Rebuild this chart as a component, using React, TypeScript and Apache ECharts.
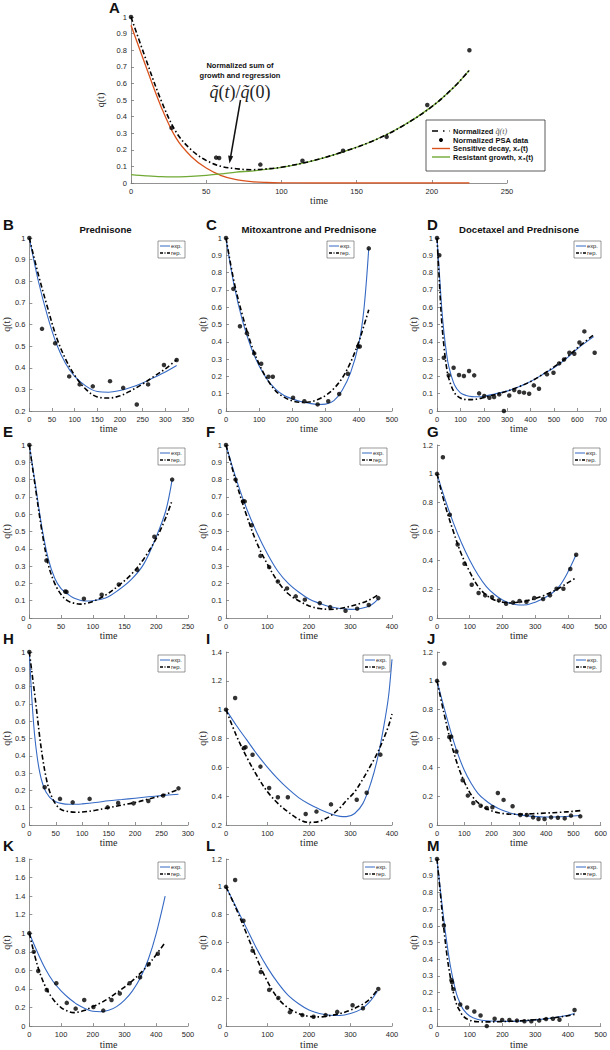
import React, { useEffect, useRef } from "react";
import * as echarts from "echarts";

// ---------- Panel A / E (same patient) ----------
const ePtsT = [0, 27, 56.6, 58.6, 86, 114, 141, 170, 197, 225];
const ePtsQ = [1, 0.332, 0.153, 0.151, 0.111, 0.134, 0.194, 0.278, 0.47, 0.8];
const eFitT = [0, 10, 20, 30, 40, 50, 60, 70, 80, 90, 100, 120, 140, 160, 180, 200, 215, 225];
const eExp = [1, 0.76, 0.52, 0.34, 0.23, 0.17, 0.14, 0.115, 0.103, 0.098, 0.1, 0.115, 0.16, 0.22, 0.31, 0.47, 0.62, 0.8];
const eRep = [1, 0.743, 0.498, 0.307, 0.2, 0.136, 0.1, 0.086, 0.08, 0.085, 0.095, 0.132, 0.185, 0.25, 0.34, 0.46, 0.58, 0.68];
const aSensitive = [0.95, 0.7, 0.46, 0.27, 0.16, 0.09, 0.045, 0.02, 0.008, 0.003, 0.001, 0, 0, 0, 0, 0, 0, 0];
const aResistant = [0.05, 0.043, 0.038, 0.037, 0.04, 0.046, 0.055, 0.066, 0.072, 0.082, 0.094, 0.132, 0.185, 0.25, 0.34, 0.46, 0.58, 0.68];

// ---------- B ----------
const bPtsT = [0, 28, 57, 88, 111, 140, 178, 207, 237, 262, 297, 325];
const bPtsQ = [1, 0.58, 0.513, 0.36, 0.323, 0.314, 0.338, 0.307, 0.23, 0.323, 0.413, 0.436];
const bFitT = [0, 20, 40, 60, 80, 100, 125, 150, 175, 200, 225, 250, 275, 300, 325];
const bExp = [1, 0.8, 0.64, 0.51, 0.42, 0.36, 0.315, 0.29, 0.287, 0.295, 0.31, 0.33, 0.355, 0.38, 0.41];
const bRep = [1, 0.83, 0.68, 0.54, 0.44, 0.365, 0.3, 0.265, 0.26, 0.27, 0.295, 0.325, 0.36, 0.395, 0.437];

// ---------- C ----------
const cPtsT = [0, 22, 42, 63, 85, 106, 128, 141, 202, 236, 276, 308, 341, 367, 398, 403, 430];
const cPtsQ = [1, 0.706, 0.49, 0.45, 0.333, 0.273, 0.198, 0.198, 0.077, 0.056, 0.038, 0.056, 0.098, 0.215, 0.373, 0.373, 0.94];
const cFitT = [0, 25, 50, 75, 100, 125, 150, 175, 200, 225, 250, 275, 300, 325, 350, 375, 400, 415, 430];
const cExp = [1, 0.72, 0.52, 0.37, 0.26, 0.18, 0.125, 0.09, 0.07, 0.055, 0.045, 0.038, 0.04, 0.06, 0.12, 0.22, 0.39, 0.58, 0.94];
const cRep = [1, 0.74, 0.55, 0.39, 0.27, 0.18, 0.115, 0.08, 0.058, 0.05, 0.052, 0.065, 0.09, 0.13, 0.19, 0.28, 0.4, 0.49, 0.585];

// ---------- D ----------
const dPtsT = [0, 10, 29, 50, 71, 94, 115, 137, 159, 180, 202, 224, 244, 266, 286, 309, 330, 352, 372, 394, 414, 436, 470, 498, 522, 543, 566, 587, 609, 630, 674];
const dPtsQ = [1, 0.9, 0.308, 0.206, 0.25, 0.208, 0.202, 0.231, 0.206, 0.102, 0.087, 0.077, 0.081, 0.096, 0, 0.09, 0.121, 0.11, 0.106, 0.1, 0.148, 0.129, 0.212, 0.221, 0.275, 0.298, 0.337, 0.331, 0.396, 0.46, 0.337];
const dFitT = [0, 10, 20, 30, 40, 50, 75, 100, 125, 150, 175, 200, 250, 300, 350, 400, 450, 500, 550, 600, 670];
const dExp = [1, 0.8, 0.6, 0.45, 0.34, 0.26, 0.15, 0.105, 0.09, 0.083, 0.082, 0.085, 0.1, 0.115, 0.14, 0.17, 0.21, 0.25, 0.3, 0.36, 0.43];
const dRep = [1, 0.75, 0.52, 0.37, 0.26, 0.19, 0.105, 0.075, 0.066, 0.066, 0.07, 0.078, 0.095, 0.115, 0.14, 0.17, 0.21, 0.255, 0.305, 0.365, 0.44];

// ---------- F ----------
const fPtsT = [0, 23, 41, 45, 62, 83, 104, 125, 147, 168, 190, 226, 251, 288, 316, 344, 367];
const fPtsQ = [1, 0.8, 0.674, 0.674, 0.536, 0.359, 0.294, 0.211, 0.171, 0.125, 0.106, 0.086, 0.063, 0.042, 0.054, 0.075, 0.115];
const fFitT = [0, 25, 50, 75, 100, 125, 150, 175, 200, 225, 250, 275, 300, 325, 350, 367];
const fExp = [1, 0.8, 0.63, 0.49, 0.37, 0.27, 0.2, 0.15, 0.11, 0.085, 0.065, 0.055, 0.05, 0.055, 0.075, 0.11];
const fRep = [1, 0.78, 0.59, 0.43, 0.31, 0.21, 0.14, 0.1, 0.07, 0.055, 0.05, 0.055, 0.068, 0.085, 0.11, 0.135];

// ---------- G ----------
const gPtsT = [0, 18, 39, 63, 84, 106, 127, 147, 168, 189, 211, 232, 252, 273, 297, 324, 345, 365, 386, 407, 425];
const gPtsQ = [1, 1.115, 0.716, 0.51, 0.376, 0.231, 0.173, 0.157, 0.145, 0.122, 0.099, 0.108, 0.118, 0.113, 0.139, 0.132, 0.157, 0.203, 0.203, 0.34, 0.439];
const gFitT = [0, 25, 50, 75, 100, 125, 150, 175, 200, 225, 250, 275, 300, 325, 350, 375, 400, 425];
const gExp = [1, 0.82, 0.66, 0.52, 0.4, 0.3, 0.22, 0.165, 0.125, 0.1, 0.09, 0.092, 0.11, 0.135, 0.17, 0.225, 0.32, 0.44];
const gRep = [1, 0.78, 0.6, 0.44, 0.32, 0.22, 0.16, 0.125, 0.11, 0.105, 0.11, 0.12, 0.135, 0.155, 0.18, 0.21, 0.245, 0.28];

// ---------- H ----------
const hPtsT = [0, 29, 58, 82, 114, 148, 168, 197, 225, 253, 282];
const hPtsQ = [1, 0.218, 0.151, 0.131, 0.151, 0.102, 0.127, 0.125, 0.139, 0.17, 0.212];
const hFitT = [0, 5, 10, 15, 20, 25, 30, 35, 40, 50, 60, 75, 90, 100, 125, 150, 175, 200, 225, 250, 282];
const hExp = [1, 0.72, 0.52, 0.39, 0.3, 0.24, 0.2, 0.175, 0.155, 0.135, 0.125, 0.12, 0.12, 0.122, 0.13, 0.14, 0.147, 0.155, 0.163, 0.17, 0.178];
const hRep = [1, 0.88, 0.76, 0.63, 0.5, 0.39, 0.3, 0.23, 0.18, 0.12, 0.09, 0.077, 0.074, 0.075, 0.085, 0.1, 0.115, 0.13, 0.15, 0.17, 0.205];

// ---------- I ----------
const iPtsT = [0, 22, 43, 47, 64, 83, 104, 125, 149, 192, 218, 253, 315, 339, 372, 401];
const iPtsQ = [1, 1.081, 0.733, 0.74, 0.687, 0.605, 0.457, 0.392, 0.392, 0.276, 0.293, 0.343, 0.375, 0.424, 0.688, 1.344];
const iFitT = [0, 25, 50, 75, 100, 125, 150, 175, 200, 225, 250, 275, 290, 310, 330, 350, 365, 380, 392, 400];
const iExp = [1, 0.89, 0.79, 0.69, 0.6, 0.52, 0.45, 0.39, 0.345, 0.31, 0.28, 0.26, 0.258, 0.28, 0.35, 0.5, 0.66, 0.88, 1.1, 1.35];
const iRep = [1, 0.82, 0.67, 0.54, 0.43, 0.35, 0.29, 0.24, 0.218, 0.225, 0.26, 0.32, 0.37, 0.43, 0.52, 0.62, 0.7, 0.8, 0.89, 0.97];

// ---------- J ----------
const jPtsT = [0, 27, 45, 52, 71, 94, 113, 133, 160, 182, 203, 223, 244, 277, 305, 329, 352, 372, 394, 418, 443, 468, 491, 525];
const jPtsQ = [1, 1.12, 0.61, 0.613, 0.51, 0.31, 0.204, 0.153, 0.134, 0.118, 0.123, 0.222, 0.174, 0.13, 0.069, 0.069, 0.053, 0.042, 0.042, 0.053, 0.05, 0.046, 0.065, 0.06];
const jFitT = [0, 25, 50, 75, 100, 125, 150, 175, 200, 225, 250, 275, 300, 350, 400, 450, 500, 525];
const jExp = [1, 0.82, 0.65, 0.5, 0.38, 0.29, 0.22, 0.175, 0.14, 0.115, 0.095, 0.08, 0.07, 0.06, 0.055, 0.057, 0.062, 0.066];
const jRep = [1, 0.78, 0.58, 0.42, 0.3, 0.21, 0.155, 0.12, 0.098, 0.085, 0.078, 0.075, 0.075, 0.078, 0.083, 0.088, 0.095, 0.1];

// ---------- K ----------
const kPtsT = [0, 14, 28, 55, 85, 118, 146, 173, 202, 233, 259, 285, 316, 349, 376, 405];
const kPtsQ = [1, 0.8, 0.594, 0.389, 0.462, 0.25, 0.188, 0.281, 0.205, 0.167, 0.281, 0.351, 0.462, 0.527, 0.667, 0.78];
const kFitT = [0, 25, 50, 75, 100, 125, 140, 150, 175, 200, 225, 250, 275, 300, 325, 350, 375, 400, 428];
const kExp = [1, 0.8, 0.62, 0.48, 0.38, 0.3, 0.26, 0.235, 0.19, 0.16, 0.155, 0.17, 0.21, 0.28, 0.38, 0.52, 0.72, 1.0, 1.4];
const kRep = [1, 0.66, 0.43, 0.29, 0.2, 0.155, 0.145, 0.148, 0.17, 0.21, 0.25, 0.3, 0.36, 0.42, 0.49, 0.57, 0.66, 0.77, 0.9];

// ---------- L ----------
const lPtsT = [0, 22, 42, 64, 84, 104, 126, 154, 184, 211, 240, 268, 305, 330, 367];
const lPtsQ = [1, 1.049, 0.757, 0.542, 0.389, 0.26, 0.202, 0.1, 0.079, 0.067, 0.079, 0.102, 0.15, 0.128, 0.267];
const lFitT = [0, 25, 50, 75, 100, 125, 150, 175, 200, 225, 250, 275, 300, 325, 345, 365];
const lExp = [1, 0.85, 0.7, 0.55, 0.42, 0.31, 0.22, 0.16, 0.115, 0.09, 0.078, 0.076, 0.09, 0.12, 0.17, 0.25];
const lRep = [1, 0.84, 0.66, 0.48, 0.32, 0.2, 0.13, 0.09, 0.07, 0.066, 0.075, 0.09, 0.115, 0.15, 0.19, 0.26];

// ---------- M ----------
const mPtsT = [0, 21, 44, 46, 50, 71, 92, 114, 133, 152, 176, 199, 221, 244, 267, 288, 312, 333, 354, 374, 420];
const mPtsQ = [1, 0.602, 0.275, 0.263, 0.221, 0.129, 0.111, 0.087, 0.063, 0, 0.044, 0.037, 0.037, 0.033, 0.029, 0.029, 0.033, 0.042, 0.044, 0.038, 0.096];
const mFitT = [0, 10, 20, 30, 40, 50, 60, 70, 80, 100, 125, 150, 200, 250, 300, 350, 400, 420];
const mExp = [1, 0.82, 0.65, 0.5, 0.37, 0.27, 0.19, 0.14, 0.1, 0.06, 0.04, 0.032, 0.028, 0.03, 0.037, 0.048, 0.065, 0.075];
const mRep = [1, 0.8, 0.6, 0.43, 0.3, 0.2, 0.13, 0.09, 0.06, 0.035, 0.026, 0.025, 0.027, 0.031, 0.038, 0.048, 0.062, 0.07];

// legend labels
const panelLegend = ["exp.", "rep."];
const aLegend = ["Normalized PSA data", "Sensitive decay, x\u2082(t)", "Resistant growth, x\u2083(t)"];

const BLUE = "#3569c4";
const RED = "#d9531e";
const GREEN = "#70a935";
const AXIS = "#777777";
const TXT = "#262626";
const SANS = "Liberation Sans, Arial, sans-serif";
const SERIF = "Liberation Serif, Times New Roman, serif";
const REP_DASH = [5, 2.5, 1.5, 2.5];

const COLS = [
  { left: 23, width: 165, letterX: 3 },
  { left: 226, width: 166, letterX: 206 },
  { left: 437, width: 164, letterX: 427 },
];
const ROW_TOPS = [238, 445, 652, 859];
const LETTER_Y = [224, 431, 638, 845];
const PLOT_H = 173;

const panels = [
  { letter: "B", title: "Prednisone", col: 0, row: 0, pT: bPtsT, pQ: bPtsQ, fT: bFitT, ex: bExp, rp: bRep, xMax: 350, xStep: 50, yMin: 0.2, yMax: 1, yStep: 0.1, lg: 3 },
  { letter: "C", title: "Mitoxantrone and Prednisone", col: 1, row: 0, pT: cPtsT, pQ: cPtsQ, fT: cFitT, ex: cExp, rp: cRep, xMax: 500, xStep: 100, yMin: 0, yMax: 1, yStep: 0.1, lg: 38 },
  { letter: "D", title: "Docetaxel and Prednisone", col: 2, row: 0, pT: dPtsT, pQ: dPtsQ, fT: dFitT, ex: dExp, rp: dRep, xMax: 700, xStep: 100, yMin: 0, yMax: 1, yStep: 0.1, lg: 0 },
  { letter: "E", title: "", col: 0, row: 1, pT: ePtsT, pQ: ePtsQ, fT: eFitT, ex: eExp, rp: eRep, xMax: 250, xStep: 50, yMin: 0, yMax: 1, yStep: 0.1, lg: 3 },
  { letter: "F", title: "", col: 1, row: 1, pT: fPtsT, pQ: fPtsQ, fT: fFitT, ex: fExp, rp: fRep, xMax: 400, xStep: 100, yMin: 0, yMax: 1, yStep: 0.1, lg: 5 },
  { letter: "G", title: "", col: 2, row: 1, pT: gPtsT, pQ: gPtsQ, fT: gFitT, ex: gExp, rp: gRep, xMax: 500, xStep: 100, yMin: 0, yMax: 1.2, yStep: 0.2, lg: 1 },
  { letter: "H", title: "", col: 0, row: 2, pT: hPtsT, pQ: hPtsQ, fT: hFitT, ex: hExp, rp: hRep, xMax: 300, xStep: 50, yMin: 0, yMax: 1, yStep: 0.1, lg: 3 },
  { letter: "I", title: "", col: 1, row: 2, pT: iPtsT, pQ: iPtsQ, fT: iFitT, ex: iExp, rp: iRep, xMax: 400, xStep: 100, yMin: 0.2, yMax: 1.4, yStep: 0.2, lg: 2 },
  { letter: "J", title: "", col: 2, row: 2, pT: jPtsT, pQ: jPtsQ, fT: jFitT, ex: jExp, rp: jRep, xMax: 600, xStep: 100, yMin: 0, yMax: 1.2, yStep: 0.2, lg: 0 },
  { letter: "K", title: "", col: 0, row: 3, pT: kPtsT, pQ: kPtsQ, fT: kFitT, ex: kExp, rp: kRep, xMax: 500, xStep: 100, yMin: 0, yMax: 1.8, yStep: 0.2, lg: 3 },
  { letter: "L", title: "", col: 1, row: 3, pT: lPtsT, pQ: lPtsQ, fT: lFitT, ex: lExp, rp: lRep, xMax: 400, xStep: 100, yMin: 0, yMax: 1.2, yStep: 0.2, lg: 2 },
  { letter: "M", title: "", col: 2, row: 3, pT: mPtsT, pQ: mPtsQ, fT: mFitT, ex: mExp, rp: mRep, xMax: 500, xStep: 100, yMin: 0, yMax: 1, yStep: 0.1, lg: 0 },
];

const zip = (t: number[], v: number[]) => t.map((x, i) => [x, v[i]]);

function axisBase(name: string, gap: number) {
  return {
    type: "value" as const,
    name,
    nameLocation: "middle" as const,
    nameGap: gap,
    nameTextStyle: { fontFamily: SERIF, fontSize: 10, color: TXT },
    axisLine: { show: true, onZero: false, lineStyle: { color: AXIS, width: 0.8 } },
    axisTick: { show: true, inside: true, length: 3, lineStyle: { color: AXIS, width: 0.8 } },
    axisLabel: { fontSize: 7.5, color: TXT, fontFamily: SANS, margin: 4 },
    splitLine: { show: false },
  };
}

function buildOption() {
  const grid: any[] = [];
  const xAxis: any[] = [];
  const yAxis: any[] = [];
  const series: any[] = [];
  const graphic: any[] = [];

  // ----- Panel A -----
  grid.push({ left: 131, top: 17, width: 376, height: 166 });
  xAxis.push({ ...axisBase("time", 10), gridIndex: 0, min: 0, max: 250, interval: 50 });
  yAxis.push({ ...axisBase("q(t)", 15), gridIndex: 0, min: 0, max: 1, interval: 0.1 });
  series.push(
    { type: "line", name: "Sensitive decay", xAxisIndex: 0, yAxisIndex: 0, data: zip(eFitT, aSensitive), showSymbol: false, smooth: 0.35, lineStyle: { color: RED, width: 1.3 }, z: 2 },
    { type: "line", name: "Resistant growth", xAxisIndex: 0, yAxisIndex: 0, data: zip(eFitT, aResistant), showSymbol: false, smooth: 0.35, lineStyle: { color: GREEN, width: 1.3 }, z: 2 },
    { type: "line", name: "Normalized sum", xAxisIndex: 0, yAxisIndex: 0, data: zip(eFitT, eRep), showSymbol: false, smooth: 0.35, lineStyle: { color: "#000", width: 1.6, type: REP_DASH }, z: 3 },
    { type: "scatter", name: "Normalized PSA data", xAxisIndex: 0, yAxisIndex: 0, data: zip(ePtsT, ePtsQ), symbolSize: 4.5, itemStyle: { color: "#000" }, z: 4 }
  );

  // A annotations
  graphic.push(
    { type: "text", x: 109, y: 7, z: 100, style: { text: "A", font: `bold 15px ${SANS}`, fill: "#111", verticalAlign: "middle" } },
    { type: "text", x: 240, y: 65, z: 100, style: { text: "Normalized sum of", font: `bold 7.5px ${SANS}`, fill: "#111", align: "center", verticalAlign: "middle" } },
    { type: "text", x: 240, y: 75, z: 100, style: { text: "growth and regression", font: `bold 7.5px ${SANS}`, fill: "#111", align: "center", verticalAlign: "middle" } },
    {
      type: "text", x: 240, y: 92, z: 100,
      style: {
        text: "{i|q\u0303}{n|(}{i|t}{n|)/}{i|q\u0303}{n|(0)}",
        align: "center", verticalAlign: "middle",
        rich: {
          i: { fontFamily: SERIF, fontStyle: "italic", fontSize: 18, fill: "#222" },
          n: { fontFamily: SERIF, fontSize: 18, fill: "#222" },
        },
      },
    },
    { type: "line", z: 100, shape: { x1: 240.5, y1: 100, x2: 230.6, y2: 157 }, style: { stroke: "#111", lineWidth: 1.5 } },
    { type: "polygon", z: 100, shape: { points: [[229.5, 163.5], [233.2, 156.2], [228.1, 155.4]] }, style: { fill: "#111" } }
  );

  // A legend
  const lx = 426, ly = 120;
  const rowY = [131, 140, 148.5, 157];
  graphic.push(
    { type: "rect", z: 100, shape: { x: lx, y: ly, width: 119, height: 51 }, style: { fill: "#fff", stroke: "#333", lineWidth: 0.8 } },
    { type: "line", z: 101, shape: { x1: 432, y1: rowY[0], x2: 450, y2: rowY[0] }, style: { stroke: "#000", lineWidth: 1.5, lineDash: [6, 5, 1.5, 5] } },
    {
      type: "text", z: 101, x: 453, y: rowY[0],
      style: {
        text: "{b|Normalized }{m|q\u0303(t)}", verticalAlign: "middle",
        rich: {
          b: { fontFamily: SANS, fontWeight: "bold", fontSize: 7.5, fill: "#111" },
          m: { fontFamily: SERIF, fontStyle: "italic", fontSize: 8, fill: "#555" },
        },
      },
    },
    { type: "circle", z: 101, shape: { cx: 441, cy: rowY[1], r: 2 }, style: { fill: "#000" } },
    { type: "text", z: 101, x: 453, y: rowY[1], style: { text: aLegend[0], font: `bold 7.5px ${SANS}`, fill: "#111", verticalAlign: "middle" } },
    { type: "line", z: 101, shape: { x1: 432, y1: rowY[2], x2: 450, y2: rowY[2] }, style: { stroke: RED, lineWidth: 1.4 } },
    { type: "text", z: 101, x: 453, y: rowY[2], style: { text: aLegend[1], font: `bold 7.5px ${SANS}`, fill: "#111", verticalAlign: "middle" } },
    { type: "line", z: 101, shape: { x1: 432, y1: rowY[3], x2: 450, y2: rowY[3] }, style: { stroke: GREEN, lineWidth: 1.4 } },
    { type: "text", z: 101, x: 453, y: rowY[3], style: { text: aLegend[2], font: `bold 7.5px ${SANS}`, fill: "#111", verticalAlign: "middle" } }
  );

  // ----- Panels B..M -----
  panels.forEach((p, k) => {
    const gi = k + 1;
    const col = COLS[p.col];
    const top = ROW_TOPS[p.row];
    grid.push({ left: col.left, top, width: col.width, height: PLOT_H });
    xAxis.push({ ...axisBase("time", 10), gridIndex: gi, min: 0, max: p.xMax, interval: p.xStep });
    yAxis.push({ ...axisBase("q(t)", 14), gridIndex: gi, min: p.yMin, max: p.yMax, interval: p.yStep });
    series.push(
      { type: "line", name: panelLegend[0], xAxisIndex: gi, yAxisIndex: gi, data: zip(p.fT, p.ex), showSymbol: false, smooth: 0.35, lineStyle: { color: BLUE, width: 1.1 }, z: 2 },
      { type: "line", name: panelLegend[1], xAxisIndex: gi, yAxisIndex: gi, data: zip(p.fT, p.rp), showSymbol: false, smooth: 0.35, lineStyle: { color: "#000", width: 1.6, type: REP_DASH }, z: 3 },
      { type: "scatter", name: "data", xAxisIndex: gi, yAxisIndex: gi, data: zip(p.pT, p.pQ), symbolSize: 4.5, itemStyle: { color: "#000" }, z: 4 }
    );

    graphic.push({ type: "text", z: 100, x: col.letterX, y: LETTER_Y[p.row], style: { text: p.letter, font: `bold 15px ${SANS}`, fill: "#111", verticalAlign: "middle" } });
    if (p.title) {
      graphic.push({ type: "text", z: 100, x: col.left + col.width / 2, y: 229, style: { text: p.title, font: `bold 9.6px ${SANS}`, fill: "#111", align: "center", verticalAlign: "middle" } });
    }
    const right = col.left + col.width - p.lg;
    const bx = right - 27, by = top + 3;
    graphic.push(
      { type: "rect", z: 100, shape: { x: bx, y: by, width: 27, height: 17 }, style: { fill: "#fff", stroke: "#555", lineWidth: 0.6 } },
      { type: "line", z: 101, shape: { x1: bx + 2, y1: by + 5, x2: bx + 12, y2: by + 5 }, style: { stroke: BLUE, lineWidth: 1 } },
      { type: "line", z: 101, shape: { x1: bx + 2, y1: by + 12, x2: bx + 12, y2: by + 12 }, style: { stroke: "#000", lineWidth: 1.4, lineDash: [3, 1.5, 1, 1.5] } },
      { type: "text", z: 101, x: bx + 13, y: by + 5, style: { text: panelLegend[0], font: `5.8px ${SANS}`, fill: TXT, verticalAlign: "middle" } },
      { type: "text", z: 101, x: bx + 13, y: by + 12, style: { text: panelLegend[1], font: `5.8px ${SANS}`, fill: TXT, verticalAlign: "middle" } }
    );
  });

  return {
    animation: false,
    backgroundColor: "#fff",
    grid,
    xAxis,
    yAxis,
    series,
    graphic,
  };
}

export default function App() {
  const ref = useRef<HTMLDivElement>(null);
  useEffect(() => {
    document.body.style.margin = "0";
    const chart = echarts.init(ref.current!, undefined, { renderer: "svg" });
    chart.setOption(buildOption() as any);
    return () => chart.dispose();
  }, []);
  return <div ref={ref} style={{ width: 610, height: 1050 }} />;
}
